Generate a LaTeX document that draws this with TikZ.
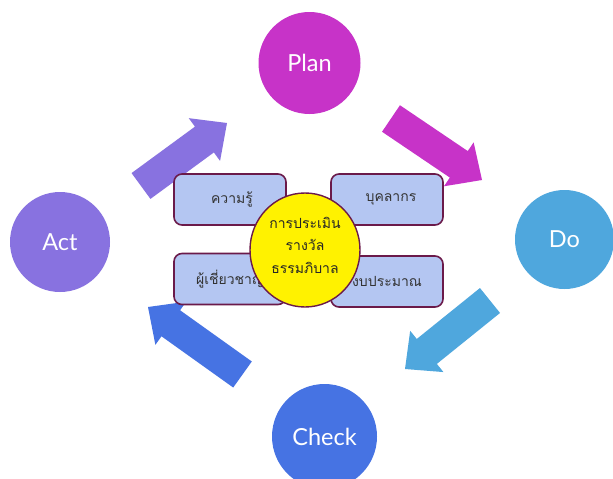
\documentclass[tikz,border=0pt]{standalone}
\usepackage{fontspec}
\setmainfont{Lato}
\newfontfamily\thaifont[Script=Thai]{Loma}
\usetikzlibrary{calc}
\definecolor{planc}{HTML}{C733C8}
\definecolor{doc}{HTML}{4FA7DD}
\definecolor{checkc}{HTML}{4673E3}
\definecolor{actc}{HTML}{8872E0}
\definecolor{boxfill}{HTML}{B4C6F2}
\definecolor{boxline}{HTML}{6B1A4A}
\newcommand\pdcaarrow[3]{%
  \fill[#1] ($(#2)!16pt!90:(#3)$) -- ($($(#3)!28pt!(#2)$)!16pt!90:(#3)$)
    -- ($($(#3)!28pt!(#2)$)!26.5pt!90:(#3)$) -- (#3)
    -- ($($(#3)!28pt!(#2)$)!26.5pt!-90:(#3)$) -- ($($(#3)!28pt!(#2)$)!16pt!-90:(#3)$)
    -- ($(#2)!16pt!-90:(#3)$) -- cycle;}
\begin{document}
\begin{tikzpicture}[x=1pt,y=-1pt,
  phase/.style={circle,minimum size=#1,inner sep=0pt,text=white,font=\fontsize{23.5}{26}\selectfont},
  topic/.style={draw=boxline,line width=1.6pt,fill=boxfill,rounded corners=8pt,
    minimum width=112pt,minimum height=51pt,inner sep=0pt,
    font=\thaifont\fontsize{14}{16}\selectfont,text=black!80}]
\fill[white] (0,0) rectangle (613,479);
\useasboundingbox (0,0) rectangle (613,479);
% arrow end points
\coordinate (a1t) at (141,186);   \coordinate (a1p) at (227,123);
\coordinate (a2t) at (391,118.5); \coordinate (a2p) at (482,180);
\coordinate (a3t) at (490,300.5); \coordinate (a3p) at (405,369);
\coordinate (a4t) at (242.5,374.5); \coordinate (a4p) at (148,307);
\pdcaarrow{actc}{a1t}{a1p}
\pdcaarrow{planc}{a2t}{a2p}
\pdcaarrow{doc}{a3t}{a3p}
\pdcaarrow{checkc}{a4t}{a4p}
% topic boxes
\node[topic] (know) at (230,199.5) {\hspace{4pt}ความรู้};
\node[topic] (staff) at (387,199.5) {\hspace{8pt}บุคลากร};
\node[topic] (expert) at (230,279) {ผู้เชี่ยวชาญ};
\node[topic] (budget) at (387,281.5) {งบประมาณ};
% centre
\filldraw[fill=yellow,draw=boxline,line width=1.4pt] (305,250) ellipse [x radius=55,y radius=57];
\node[font=\thaifont\fontsize{14}{22.5}\selectfont,align=center,text=black!85] (hub) at (305,245)
  {การประเมิน\\รางวัล\\ธรรมภิบาล};
% phases
\node[phase=102pt,fill=planc] (plan) at (309.5,63) {Plan};
\node[phase=99pt,fill=doc] (do) at (564.5,239.5) {Do};
\node[phase=105pt,fill=checkc] (check) at (324.5,436.5) {Check};
\node[phase=100pt,fill=actc] (act) at (60,242) {Act};
\end{tikzpicture}
\end{document}
